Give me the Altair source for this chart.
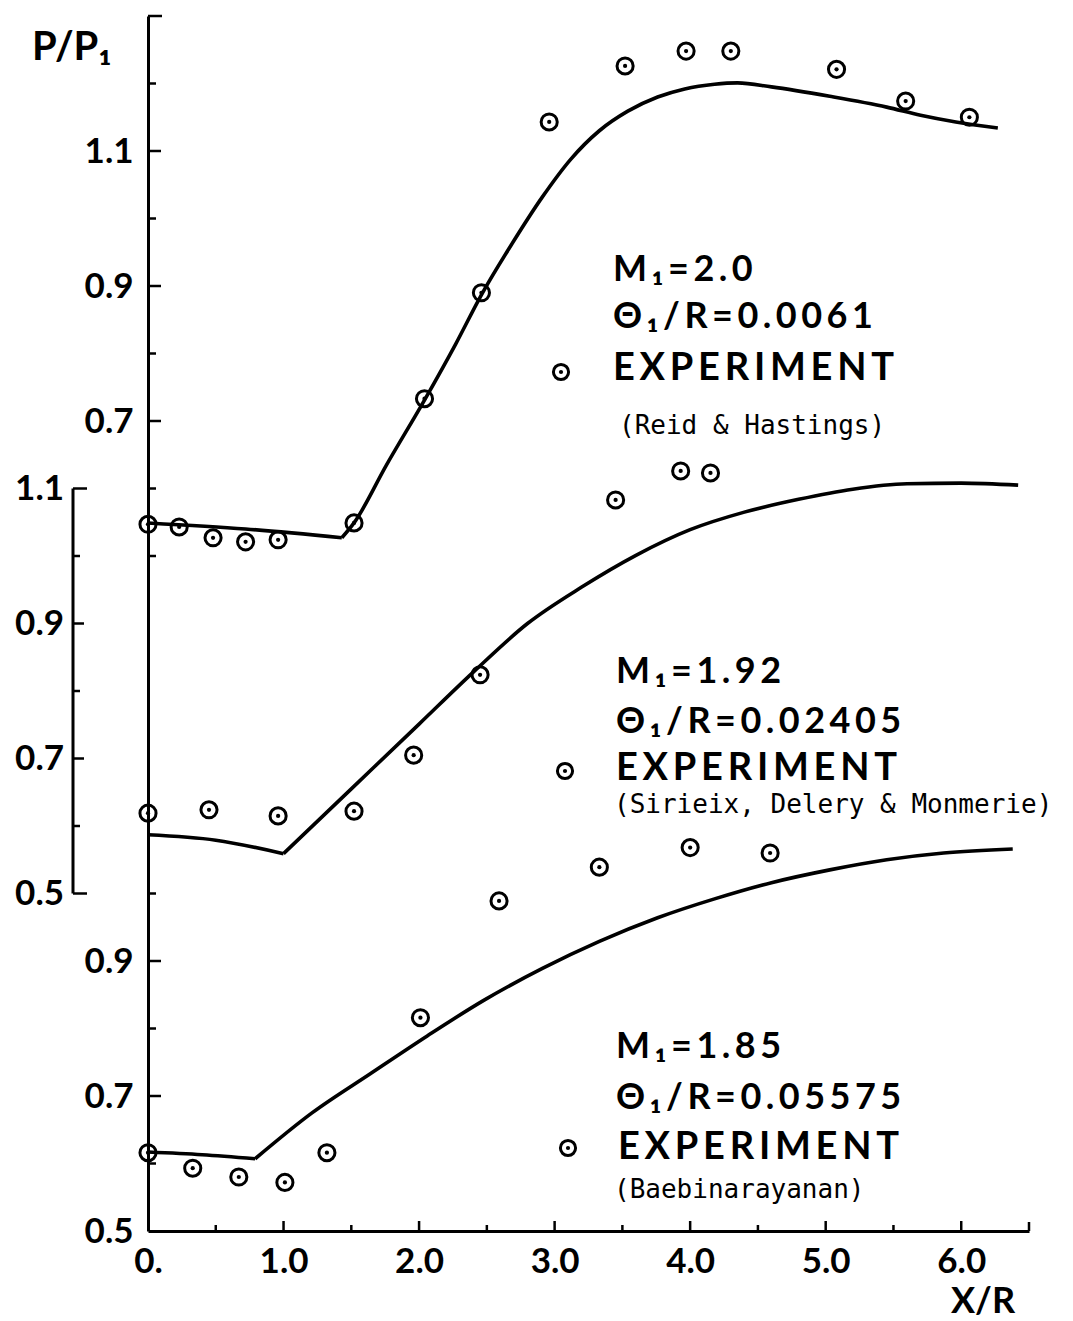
import altair as alt
import pandas as pd

# ---------------- data (P/P1 vs X/R) ----------------
# Reid & Hastings, M1 = 2.0  (upper scale, drawn shifted by +1.0)
rh_pre_x = [0.0, 0.72, 1.43]
rh_pre_y = [0.549, 0.540, 0.527]
rh_post_x = [1.43, 1.52, 1.76, 2.04, 2.27, 2.46, 2.69, 2.91, 3.12, 3.33, 3.54,
             3.76, 3.96, 4.18, 4.35, 4.60, 5.03, 5.45, 5.70, 5.96, 6.27]
rh_post_y = [0.527, 0.549, 0.635, 0.731, 0.814, 0.887, 0.964, 1.032, 1.088, 1.130, 1.159,
             1.180, 1.192, 1.199, 1.201, 1.195, 1.181, 1.165, 1.153, 1.143, 1.134]
rh_exp_x = [0.0, 0.23, 0.48, 0.72, 0.96, 1.52, 2.04, 2.46, 2.96, 3.52, 3.97, 4.30, 5.08, 5.59, 6.06]
rh_exp_y = [0.547, 0.543, 0.527, 0.521, 0.524, 0.549, 0.733, 0.890, 1.143, 1.226, 1.248, 1.248,
            1.221, 1.174, 1.150]

# Sirieix, Delery & Monmerie, M1 = 1.92  (middle scale, shifted by +0.5)
sdm_pre_x = [0.0, 0.5, 1.0]
sdm_pre_y = [0.587, 0.579, 0.559]
sdm_post_x = [1.0, 1.5, 2.0, 2.4, 2.8, 3.2, 3.6, 4.0, 4.4, 4.8, 5.2, 5.6, 6.0, 6.42]
sdm_post_y = [0.559, 0.655, 0.751, 0.828, 0.900, 0.954, 1.001, 1.039, 1.065, 1.084, 1.099,
              1.107, 1.108, 1.105]
sdm_exp_x = [0.0, 0.45, 0.96, 1.52, 1.96, 2.45, 3.45, 3.93, 4.15]
sdm_exp_y = [0.619, 0.624, 0.615, 0.622, 0.705, 0.824, 1.083, 1.126, 1.123]

# Baebinarayanan, M1 = 1.85  (lower scale)
bae_pre_x = [0.0, 0.40, 0.79]
bae_pre_y = [0.617, 0.613, 0.607]
bae_post_x = [0.79, 1.21, 1.64, 2.06, 2.48, 2.91, 3.33, 3.76, 4.18, 4.60, 5.03, 5.45, 5.87, 6.38]
bae_post_y = [0.607, 0.675, 0.733, 0.789, 0.842, 0.889, 0.929, 0.964, 0.992, 1.016, 1.035,
              1.050, 1.060, 1.066]
bae_exp_x = [0.0, 0.33, 0.67, 1.01, 1.32, 2.01, 2.59, 3.33, 4.00, 4.59]
bae_exp_y = [0.616, 0.593, 0.580, 0.572, 0.616, 0.816, 0.989, 1.039, 1.068, 1.060]

offsets = {"rh": 1.0, "sdm": 0.5, "bae": 0.0}

# tick labels
x_label_values = [0, 1, 2, 3, 4, 5, 6]
lower_scale_labels = [0.5, 0.7, 0.9]
upper_scale_labels = [0.7, 0.9, 1.1]
middle_scale_labels = [0.5, 0.7, 0.9, 1.1]

# ---------------- geometry ----------------
W, H = 881, 1215
X_DOM = [0.0, 6.5]
Y_DOM = [0.5, 2.3]
PXU = W / (X_DOM[1] - X_DOM[0])   # px per X/R unit
PYU = H / (Y_DOM[1] - Y_DOM[0])   # px per P/P1 unit

SANS = "Lato"
MONO = "DejaVu Sans Mono"
TS = "\u2009"
WEIGHT = "bold"

# ---------------- tables ----------------
line_rows = []
for key, parts in {
    "rh": [(rh_pre_x, rh_pre_y), (rh_post_x, rh_post_y)],
    "sdm": [(sdm_pre_x, sdm_pre_y), (sdm_post_x, sdm_post_y)],
    "bae": [(bae_pre_x, bae_pre_y), (bae_post_x, bae_post_y)],
}.items():
    for i, (xs_, ys_) in enumerate(parts):
        for x, y in zip(xs_, ys_):
            line_rows.append({"piece": f"{key}{i}", "x": x, "y": y + offsets[key]})
lines_df = pd.DataFrame(line_rows)

pt_rows = []
for key, xs_, ys_ in [("rh", rh_exp_x, rh_exp_y), ("sdm", sdm_exp_x, sdm_exp_y),
                      ("bae", bae_exp_x, bae_exp_y)]:
    for x, y in zip(xs_, ys_):
        pt_rows.append({"case": key, "x": x, "y": y + offsets[key]})
pts_df = pd.DataFrame(pt_rows)

# axis tick tables (in data units)
xt = []
for k in range(1, 14):
    v = k * 0.5
    ln = 10 if k % 2 == 0 else 6
    if k == 13:
        ln = 9
    xt.append({"x": v, "y": Y_DOM[0], "y2": Y_DOM[0] + ln / PYU})
xticks_df = pd.DataFrame(xt)

yt = []
main_vals = [0.6, 0.7, 0.8, 0.9, 1.0, 1.5, 1.6, 1.7, 1.8, 1.9, 2.0, 2.1, 2.2, 2.3]
for v in main_vals:
    major = any(abs(v - l) < 1e-6 for l in lower_scale_labels) or \
        any(abs(v - (l + 1.0)) < 1e-6 for l in upper_scale_labels)
    ln = 13 if major else 8
    if abs(v - 2.3) < 1e-6:
        ln = 14
    yt.append({"x": 0.0, "x2": ln / PXU, "y": v})
yticks_df = pd.DataFrame(yt)

BR_X = -75 / PXU   # middle bracket position
bt = []
for i in range(7):
    v = 1.0 + i * 0.1
    seg = round(v - 0.5, 1)
    if i in (0, 6):
        ln = 14
    elif any(abs(seg - l) < 1e-6 for l in middle_scale_labels):
        ln = 11
    else:
        ln = 7
    bt.append({"x": BR_X, "x2": BR_X + ln / PXU, "y": v})
bticks_df = pd.DataFrame(bt)
bline_df = pd.DataFrame([{"x": BR_X, "y": 1.0, "y2": 1.6}])
blabels_df = pd.DataFrame([{"x": BR_X - 9 / PXU, "y": l + 0.5, "t": f"{l:.1f}"}
                           for l in middle_scale_labels])


def px(p):
    return (p - 148) / PXU


def py(p):
    return Y_DOM[0] + (1231 - p) / PYU


def spread(s):
    return TS.join(s)


small_ann = pd.DataFrame([
    {"t": spread("M₁=2.0"), "x": px(613), "y": py(270)},
    {"t": spread("Θ₁/R=0.0061"), "x": px(613), "y": py(317)},
    {"t": spread("M₁=1.92"), "x": px(616), "y": py(672)},
    {"t": spread("Θ₁/R=0.02405"), "x": px(616), "y": py(722)},
    {"t": spread("M₁=1.85"), "x": px(616), "y": py(1047)},
    {"t": spread("Θ₁/R=0.05575"), "x": px(616), "y": py(1098)},
])
exp_ann = pd.DataFrame([
    {"t": spread("EXPERIMENT"), "x": px(613), "y": py(369)},
    {"t": spread("EXPERIMENT"), "x": px(616), "y": py(769)},
    {"t": spread("EXPERIMENT"), "x": px(618), "y": py(1148)},
])
mono_ann = pd.DataFrame([
    {"t": "(Reid & Hastings)", "x": px(619), "y": py(426)},
    {"t": "(Sirieix, Delery & Monmerie)", "x": px(614), "y": py(805)},
    {"t": "(Baebinarayanan)", "x": px(614), "y": py(1190)},
])
marker_df = pd.DataFrame([
    {"x": px(561), "y": py(372)},
    {"x": px(565), "y": py(771)},
    {"x": px(568), "y": py(1148)},
])
title_left_df = pd.DataFrame([{"t": "P/P₁", "x": px(32), "y": py(48)}])
title_center_df = pd.DataFrame([{"t": "X/R", "x": px(983), "y": py(1302)}])

# ---------------- chart ----------------
xs = alt.Scale(domain=X_DOM, nice=False, zero=False)
ys = alt.Scale(domain=Y_DOM, nice=False, zero=False)

AX = alt.Axis(
    values=x_label_values,
    labelExpr="datum.value == 0 ? '0.' : format(datum.value, '.1f')",
    ticks=False, grid=False, title=None, domainColor="black", domainWidth=3,
    labelFont=SANS, labelFontSize=35, labelFontWeight=WEIGHT, labelColor="black",
    labelPadding=13, labelFlush=False, labelOverlap=False)
AY = alt.Axis(
    values=lower_scale_labels + [v + 1.0 for v in upper_scale_labels],
    labelExpr="datum.value > 1.4 ? format(datum.value - 1, '.1f') : format(datum.value, '.1f')",
    ticks=False, grid=False, title=None, domainColor="black", domainWidth=3,
    labelFont=SANS, labelFontSize=35, labelFontWeight=WEIGHT, labelColor="black",
    labelPadding=15, labelFlush=False, labelOverlap=False, labelBaseline="middle")


def X():
    return alt.X("x:Q", scale=xs, axis=AX)


def Y():
    return alt.Y("y:Q", scale=ys, axis=AY)


lines = alt.Chart(lines_df).mark_line(
    color="black", strokeWidth=3.6, interpolate="monotone"
).encode(x=X(), y=Y(), detail="piece:N")

circles = alt.Chart(pts_df).mark_point(
    shape="circle", filled=False, color="black", strokeWidth=3, size=260, opacity=1
).encode(x=X(), y=Y())
dots = alt.Chart(pts_df).mark_point(
    shape="circle", filled=True, color="black", size=18, opacity=1
).encode(x=X(), y=Y())

xticks = alt.Chart(xticks_df).mark_rule(color="black", strokeWidth=2.5).encode(
    x=X(), y=Y(), y2="y2:Q")
yticks = alt.Chart(yticks_df).mark_rule(color="black", strokeWidth=2.5).encode(
    x=X(), x2="x2:Q", y=Y())
bline = alt.Chart(bline_df).mark_rule(color="black", strokeWidth=3).encode(
    x=X(), y=Y(), y2="y2:Q")
bticks = alt.Chart(bticks_df).mark_rule(color="black", strokeWidth=2.5).encode(
    x=X(), x2="x2:Q", y=Y())
blabels = alt.Chart(blabels_df).mark_text(
    font=SANS, fontSize=35, fontWeight=WEIGHT, align="right", baseline="middle", color="black"
).encode(x=X(), y=Y(), text="t:N")

small_text = alt.Chart(small_ann).mark_text(
    font=SANS, fontSize=36, fontWeight=WEIGHT, align="left", baseline="middle", color="black"
).encode(x=X(), y=Y(), text="t:N")
exp_text = alt.Chart(exp_ann).mark_text(
    font=SANS, fontSize=38, fontWeight=WEIGHT, align="left", baseline="middle", color="black"
).encode(x=X(), y=Y(), text="t:N")
mono_text = alt.Chart(mono_ann).mark_text(
    font=MONO, fontSize=26, align="left", baseline="middle", color="black"
).encode(x=X(), y=Y(), text="t:N")
m_circ = alt.Chart(marker_df).mark_point(
    shape="circle", filled=False, color="black", strokeWidth=3, size=230, opacity=1
).encode(x=X(), y=Y())
m_dot = alt.Chart(marker_df).mark_point(
    shape="circle", filled=True, color="black", size=18, opacity=1
).encode(x=X(), y=Y())

titles_left = alt.Chart(title_left_df).mark_text(
    font=SANS, fontSize=40, fontWeight=WEIGHT, baseline="middle", align="left", color="black"
).encode(x=X(), y=Y(), text="t:N")
titles_center = alt.Chart(title_center_df).mark_text(
    font=SANS, fontSize=36, fontWeight=WEIGHT, baseline="middle", align="center", color="black"
).encode(x=X(), y=Y(), text="t:N")

chart = alt.layer(
    lines, circles, dots, xticks, yticks, bline, bticks, blabels,
    small_text, exp_text, mono_text, m_circ, m_dot, titles_left, titles_center
).properties(
    width=W, height=H,
    autosize=alt.AutoSizeParams(type="none"),
    padding={"left": 148, "top": 16, "right": 1073 - 148 - W, "bottom": 1321 - 16 - H},
    background="white",
).configure_view(stroke=None)

chart.save("out.html", embed_options={"renderer": "svg", "actions": False})
